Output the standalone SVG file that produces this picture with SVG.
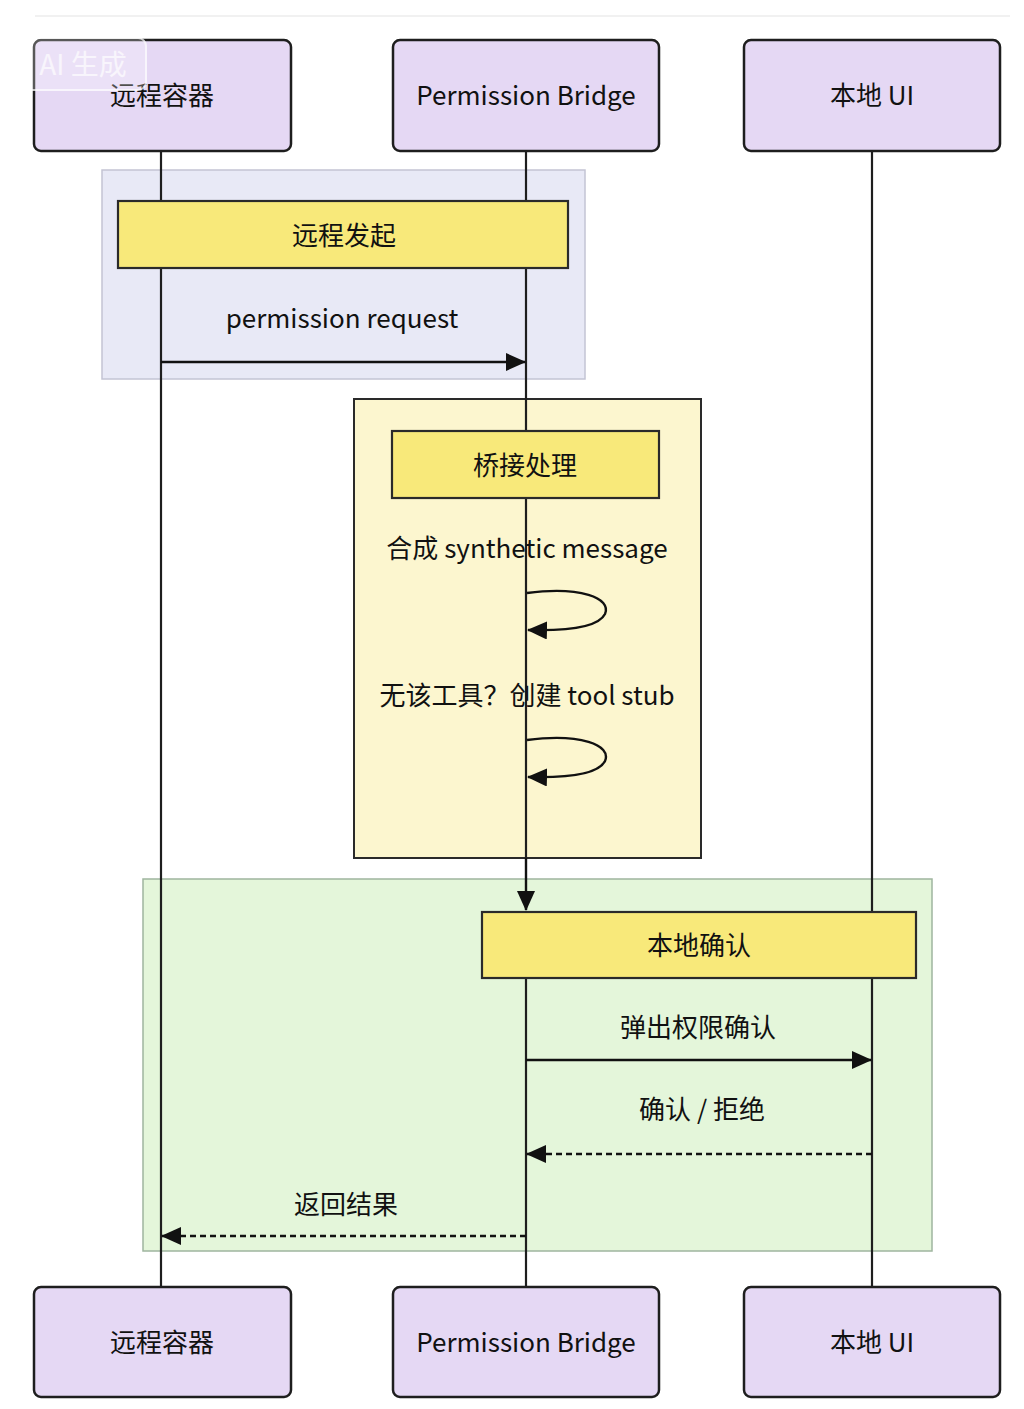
<svg xmlns="http://www.w3.org/2000/svg" width="1024" height="1409" viewBox="0 0 1024 1409">
<defs>
<style>
.actor{fill:#e5d8f4;stroke:#1e1e1e;stroke-width:2.5}
.note{fill:#f8e97a;stroke:#2a2a2a;stroke-width:2.2}
.life{stroke:#1e1e1e;stroke-width:2.2;fill:none}
.msg{stroke:#111;stroke-width:2.4;fill:none}
.dash{stroke:#111;stroke-width:2.4;fill:none;stroke-dasharray:6 4}
text{font-family:"Noto Sans CJK SC","Noto Sans",sans-serif;font-size:26px;font-weight:400;fill:#111;text-anchor:middle}
</style>
<marker id="arrL" markerWidth="20" markerHeight="18" refX="19" refY="9" orient="auto" markerUnits="userSpaceOnUse" viewBox="0 0 20 18">
<path d="M0,0 L20,9 L0,18 z" fill="#111"/>
</marker>
</defs>
<rect width="1024" height="1409" fill="#ffffff"/>
<line x1="35" y1="16" x2="1010" y2="16" stroke="#ececec" stroke-width="1.5"/>

<g id="groups">
<rect id="grp-remote" x="102" y="170" width="483" height="209" fill="#e8e9f6" stroke="#c3c4d4" stroke-width="1.5"/>
<rect id="grp-bridge" x="354" y="399" width="347" height="459" fill="#fcf6cf" stroke="#2a2a2a" stroke-width="2"/>
<rect id="grp-local" x="143" y="879" width="789" height="372" fill="#e4f6da" stroke="#9fb59f" stroke-width="1.5"/>
</g>

<g id="lifelines">
<line class="life" x1="161" y1="151" x2="161" y2="1287"/>
<line class="life" x1="526" y1="151" x2="526" y2="400"/>
<line class="life" x1="526" y1="400" x2="526" y2="858" stroke="#4a3f86"/>
<line class="life" x1="526" y1="978" x2="526" y2="1287"/>
<line class="life" x1="872" y1="151" x2="872" y2="912"/>
<line class="life" x1="872" y1="978" x2="872" y2="1287"/>
</g>

<g id="note-remote">
<rect class="note" x="118" y="201" width="450" height="67"/>
<text x="344" y="245">远程发起</text>
</g>
<g id="note-bridge">
<rect class="note" x="392" y="431" width="267" height="67"/>
<text x="525" y="475">桥接处理</text>
</g>
<g id="note-local">
<rect class="note" x="482" y="912" width="434" height="66"/>
<text x="699" y="955">本地确认</text>
</g>

<g id="connectors">
<line class="msg" x1="161" y1="362" x2="525" y2="362" marker-end="url(#arrL)"/>
<text x="342" y="328">permission request</text>
<text x="527" y="558">合成 synthetic message</text>
<path class="msg" d="M527 593 C 580 586, 612 598, 605 614 C 598 628, 565 631, 528 630" marker-end="url(#arrL)"/>
<text x="527" y="705">无该工具？创建 tool stub</text>
<path class="msg" d="M527 740 C 580 733, 612 745, 605 761 C 598 775, 565 778, 528 777" marker-end="url(#arrL)"/>
<line class="msg" x1="526" y1="858" x2="526" y2="910" marker-end="url(#arrL)"/>
<text x="698" y="1037">弹出权限确认</text>
<line class="msg" x1="526" y1="1060" x2="871" y2="1060" marker-end="url(#arrL)"/>
<text x="702" y="1119">确认 / 拒绝</text>
<line class="dash" x1="872" y1="1154" x2="527" y2="1154" marker-end="url(#arrL)"/>
<text x="346" y="1214">返回结果</text>
<line class="dash" x1="526" y1="1236" x2="162" y2="1236" marker-end="url(#arrL)"/>
</g>

<g id="actor-remote-top">
<rect class="actor" x="34" y="40" width="257" height="111" rx="7"/>
<text x="162" y="105">远程容器</text>
</g>
<g id="actor-bridge-top">
<rect class="actor" x="393" y="40" width="266" height="111" rx="7"/>
<text x="526" y="105">Permission Bridge</text>
</g>
<g id="actor-local-top">
<rect class="actor" x="744" y="40" width="256" height="111" rx="7"/>
<text x="872" y="105">本地 UI</text>
</g>
<g id="actor-remote-bottom">
<rect class="actor" x="34" y="1287" width="257" height="110" rx="7"/>
<text x="162" y="1352">远程容器</text>
</g>
<g id="actor-bridge-bottom">
<rect class="actor" x="393" y="1287" width="266" height="110" rx="7"/>
<text x="526" y="1352">Permission Bridge</text>
</g>
<g id="actor-local-bottom">
<rect class="actor" x="744" y="1287" width="256" height="110" rx="7"/>
<text x="872" y="1352">本地 UI</text>
</g>

<g id="watermark" opacity="0.75">
<rect x="20" y="38" width="126" height="52" rx="8" fill="#ffffff" fill-opacity="0.35" stroke="#ffffff" stroke-width="2"/>
<text x="83" y="75" style="fill:#ffffff;font-size:28px;font-weight:400">AI 生成</text>
</g>
</svg>
